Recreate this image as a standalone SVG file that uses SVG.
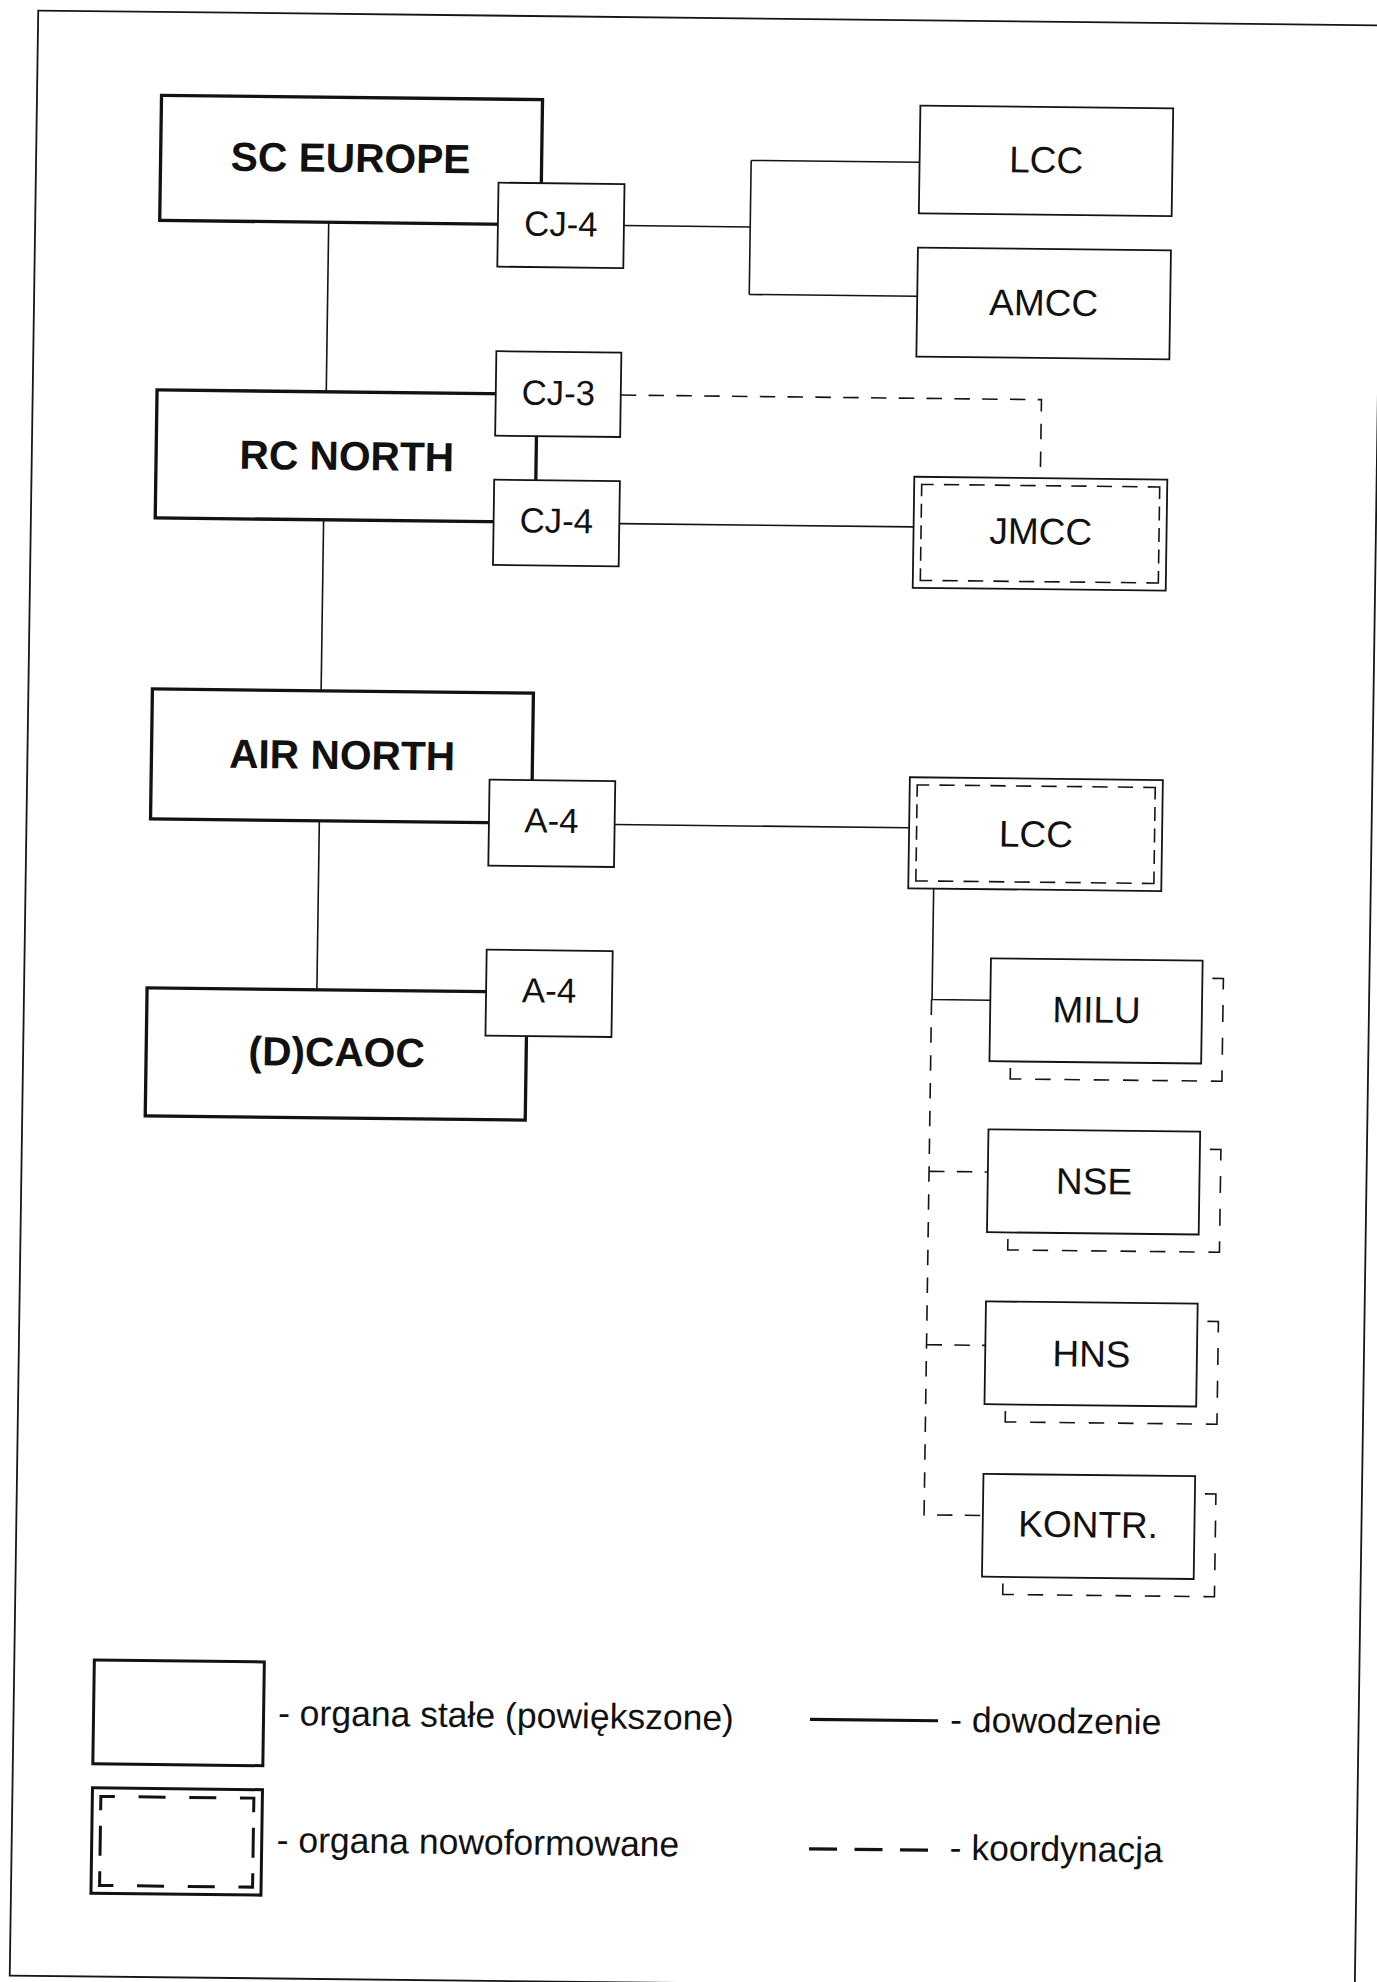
<svg xmlns="http://www.w3.org/2000/svg" width="1377" height="1982" viewBox="0 0 1377 1982">
<defs>
<style>
.frame{fill:none;stroke:#161616;stroke-width:1.8}
.main{fill:#fff;stroke:#121212;stroke-width:3.3}
.sub{fill:#fff;stroke:#141414;stroke-width:1.8}
.unit{fill:#fff;stroke:#141414;stroke-width:1.8}
.inner{fill:none;stroke:#141414;stroke-width:1.6;stroke-dasharray:12 10.18 15.3 10.18 15.3 10.18 15.3 10.18 15.3 10.18 15.3 10.18 15.3 10.18 15.3 10.18 15.3 10.18 24 7.5 14 7.5 14 7.5 14 7.5 24 10.18 15.3 10.18 15.3 10.18 15.3 10.18 15.3 10.18 15.3 10.18 15.3 10.18 15.3 10.18 15.3 10.18 24 7.5 14 7.5 14 7.5 14 7.5 12}
.shadow{fill:none;stroke:#141414;stroke-width:1.6;stroke-dasharray:22 15.6 17 15.6 17 15.6 22 13.8 15.5 13.8 15.5 13.8 15.5 13.8 15.5 13.8 15.5 13.8 15.5 13.8 22}
.cmd{fill:none;stroke:#141414;stroke-width:1.6}
.coord{fill:none;stroke:#141414;stroke-width:1.6;stroke-dasharray:15.5 12.3}
.lg-box{fill:#fff;stroke:#121212;stroke-width:3}
.lg-inner{fill:none;stroke:#121212;stroke-width:3;stroke-dasharray:14 23.7 27 23.7 27 23.7 28 15.5 30 15.5 28 23.7 27 23.7 27 23.7 28 15.5 30 15.5 14}
.lg-line{fill:none;stroke:#121212;stroke-width:3.2}
.lg-dash{fill:none;stroke:#121212;stroke-width:3.2;stroke-dasharray:28 17.5}
text{font-family:"Liberation Sans",Arial,sans-serif;fill:#111}
.t-main{font-size:40.7px;font-weight:bold;text-anchor:middle}
.t-sub{font-size:34.8px;text-anchor:middle}
.t-unit{font-size:37px;text-anchor:middle}
.t-lg{font-size:35.5px}
</style>
</defs>
<rect x="0" y="0" width="1377" height="1982" fill="#fff"/>
<g transform="matrix(1 0.011 -0.0145 1 14.5 -7.7)">
<rect class="frame" x="24" y="18" width="1345" height="1965"/>

<g id="connectors">
<path class="cmd" d="M317.5 226.5 V396"/>
<path class="cmd" d="M316.7 524 V695"/>
<path class="cmd" d="M316.8 825 V994"/>
<path class="cmd" d="M612.6 226.5 H739 M739 160 V294 M739 160 H907.4 M739 294 H907"/>
<path class="coord" d="M612 396 H1032.7 V474.5"/>
<path class="cmd" d="M612.4 524.6 H906.7"/>
<path class="cmd" d="M612.1 825.5 H906.6"/>
<path class="cmd" d="M932 886.5 V997 H990.3"/>
<path class="coord" d="M931.5 997 V1512.3 H990.3"/>
<path class="coord" d="M931.5 1168.8 H990.3"/>
<path class="coord" d="M931.5 1342.2 H990.3"/>
</g>

<g id="sc-europe">
<rect class="main" x="148.5" y="101.5" width="381" height="125"/>
<text class="t-main" x="338.5" y="176">SC EUROPE</text>
</g>
<g id="sc-cj4">
<rect class="sub" x="486.7" y="185" width="126" height="84"/>
<text class="t-sub" x="549.7" y="237.6">CJ-4</text>
</g>
<g id="rc-north">
<rect class="main" x="148.3" y="396" width="380" height="128"/>
<text class="t-main" x="339" y="474">RC NORTH</text>
</g>
<g id="rc-cj3">
<rect class="sub" x="487" y="353.5" width="125" height="84.5"/>
<text class="t-sub" x="549.6" y="406.5">CJ-3</text>
</g>
<g id="rc-cj4">
<rect class="sub" x="486.7" y="482" width="125.7" height="85.3"/>
<text class="t-sub" x="549.4" y="534.4">CJ-4</text>
</g>
<g id="air-north">
<rect class="main" x="148" y="695" width="381" height="130"/>
<text class="t-main" x="338.6" y="773.1">AIR NORTH</text>
</g>
<g id="air-a4">
<rect class="sub" x="486.4" y="782" width="125.7" height="86"/>
<text class="t-sub" x="549" y="834.3">A-4</text>
</g>
<g id="dcaoc">
<rect class="main" x="147" y="994" width="380" height="128"/>
<text class="t-main" x="337.5" y="1070">(D)CAOC</text>
</g>
<g id="dcaoc-a4">
<rect class="sub" x="486" y="952" width="126" height="86"/>
<text class="t-sub" x="549" y="1004.2">A-4</text>
</g>

<g id="lcc-top">
<rect class="unit" x="907.4" y="103.3" width="252.8" height="107.7"/>
<text class="t-unit" x="1034" y="169.1">LCC</text>
</g>
<g id="amcc">
<rect class="unit" x="907" y="245.3" width="253" height="109"/>
<text class="t-unit" x="1033.5" y="311.9">AMCC</text>
</g>
<g id="jmcc">
<rect class="unit" x="906.7" y="474.5" width="253" height="111"/>
<rect class="inner" x="914.2" y="482" width="238" height="96"/>
<text class="t-unit" x="1034" y="540.5">JMCC</text>
</g>
<g id="lcc-air">
<rect class="unit" x="906.6" y="775" width="253" height="111"/>
<rect class="inner" x="914.1" y="782.5" width="238" height="96"/>
<text class="t-unit" x="1033.5" y="843.2">LCC</text>
</g>
<g id="milu">
<path class="shadow" d="M1212 972.7 H1223 V1075.5 H1011.3 V1064.5"/>
<rect class="unit" x="990.3" y="955.2" width="211.7" height="102.8"/>
<text class="t-unit" x="1096.6" y="1018.3">MILU</text>
</g>
<g id="nse">
<path class="shadow" d="M1212 1143.7 H1223 V1246.5 H1011.3 V1235.5"/>
<rect class="unit" x="990.3" y="1126.2" width="211.7" height="102.8"/>
<text class="t-unit" x="1096.6" y="1189.7">NSE</text>
</g>
<g id="hns">
<path class="shadow" d="M1212 1315.7 H1223 V1418.5 H1011.3 V1407.5"/>
<rect class="unit" x="990.3" y="1298.2" width="211.7" height="102.8"/>
<text class="t-unit" x="1096.5" y="1362.4">HNS</text>
</g>
<g id="kontr">
<path class="shadow" d="M1212 1488.2 H1223 V1591 H1011.3 V1580"/>
<rect class="unit" x="990.3" y="1470.7" width="211.7" height="102.8"/>
<text class="t-unit" x="1095.6" y="1533">KONTR.</text>
</g>

<g id="legend">
<rect class="lg-box" x="104" y="1666.6" width="170" height="103.8"/>
<text class="t-lg" x="288.5" y="1729.5">- organa stałe (powiększone)</text>
<rect class="lg-box" x="104" y="1794.4" width="170" height="105.4"/>
<rect class="lg-inner" x="112.5" y="1802.9" width="153" height="89"/>
<text class="t-lg" x="289" y="1856.5">- organa nowoformowane</text>
<path class="lg-line" d="M820.4 1718 H948.4"/>
<text class="t-lg" x="960.6" y="1729">- dowodzenie</text>
<path class="lg-dash" d="M821.3 1847.5 H940.3"/>
<text class="t-lg" x="962" y="1857">- koordynacja</text>
</g>
</g>
</svg>
